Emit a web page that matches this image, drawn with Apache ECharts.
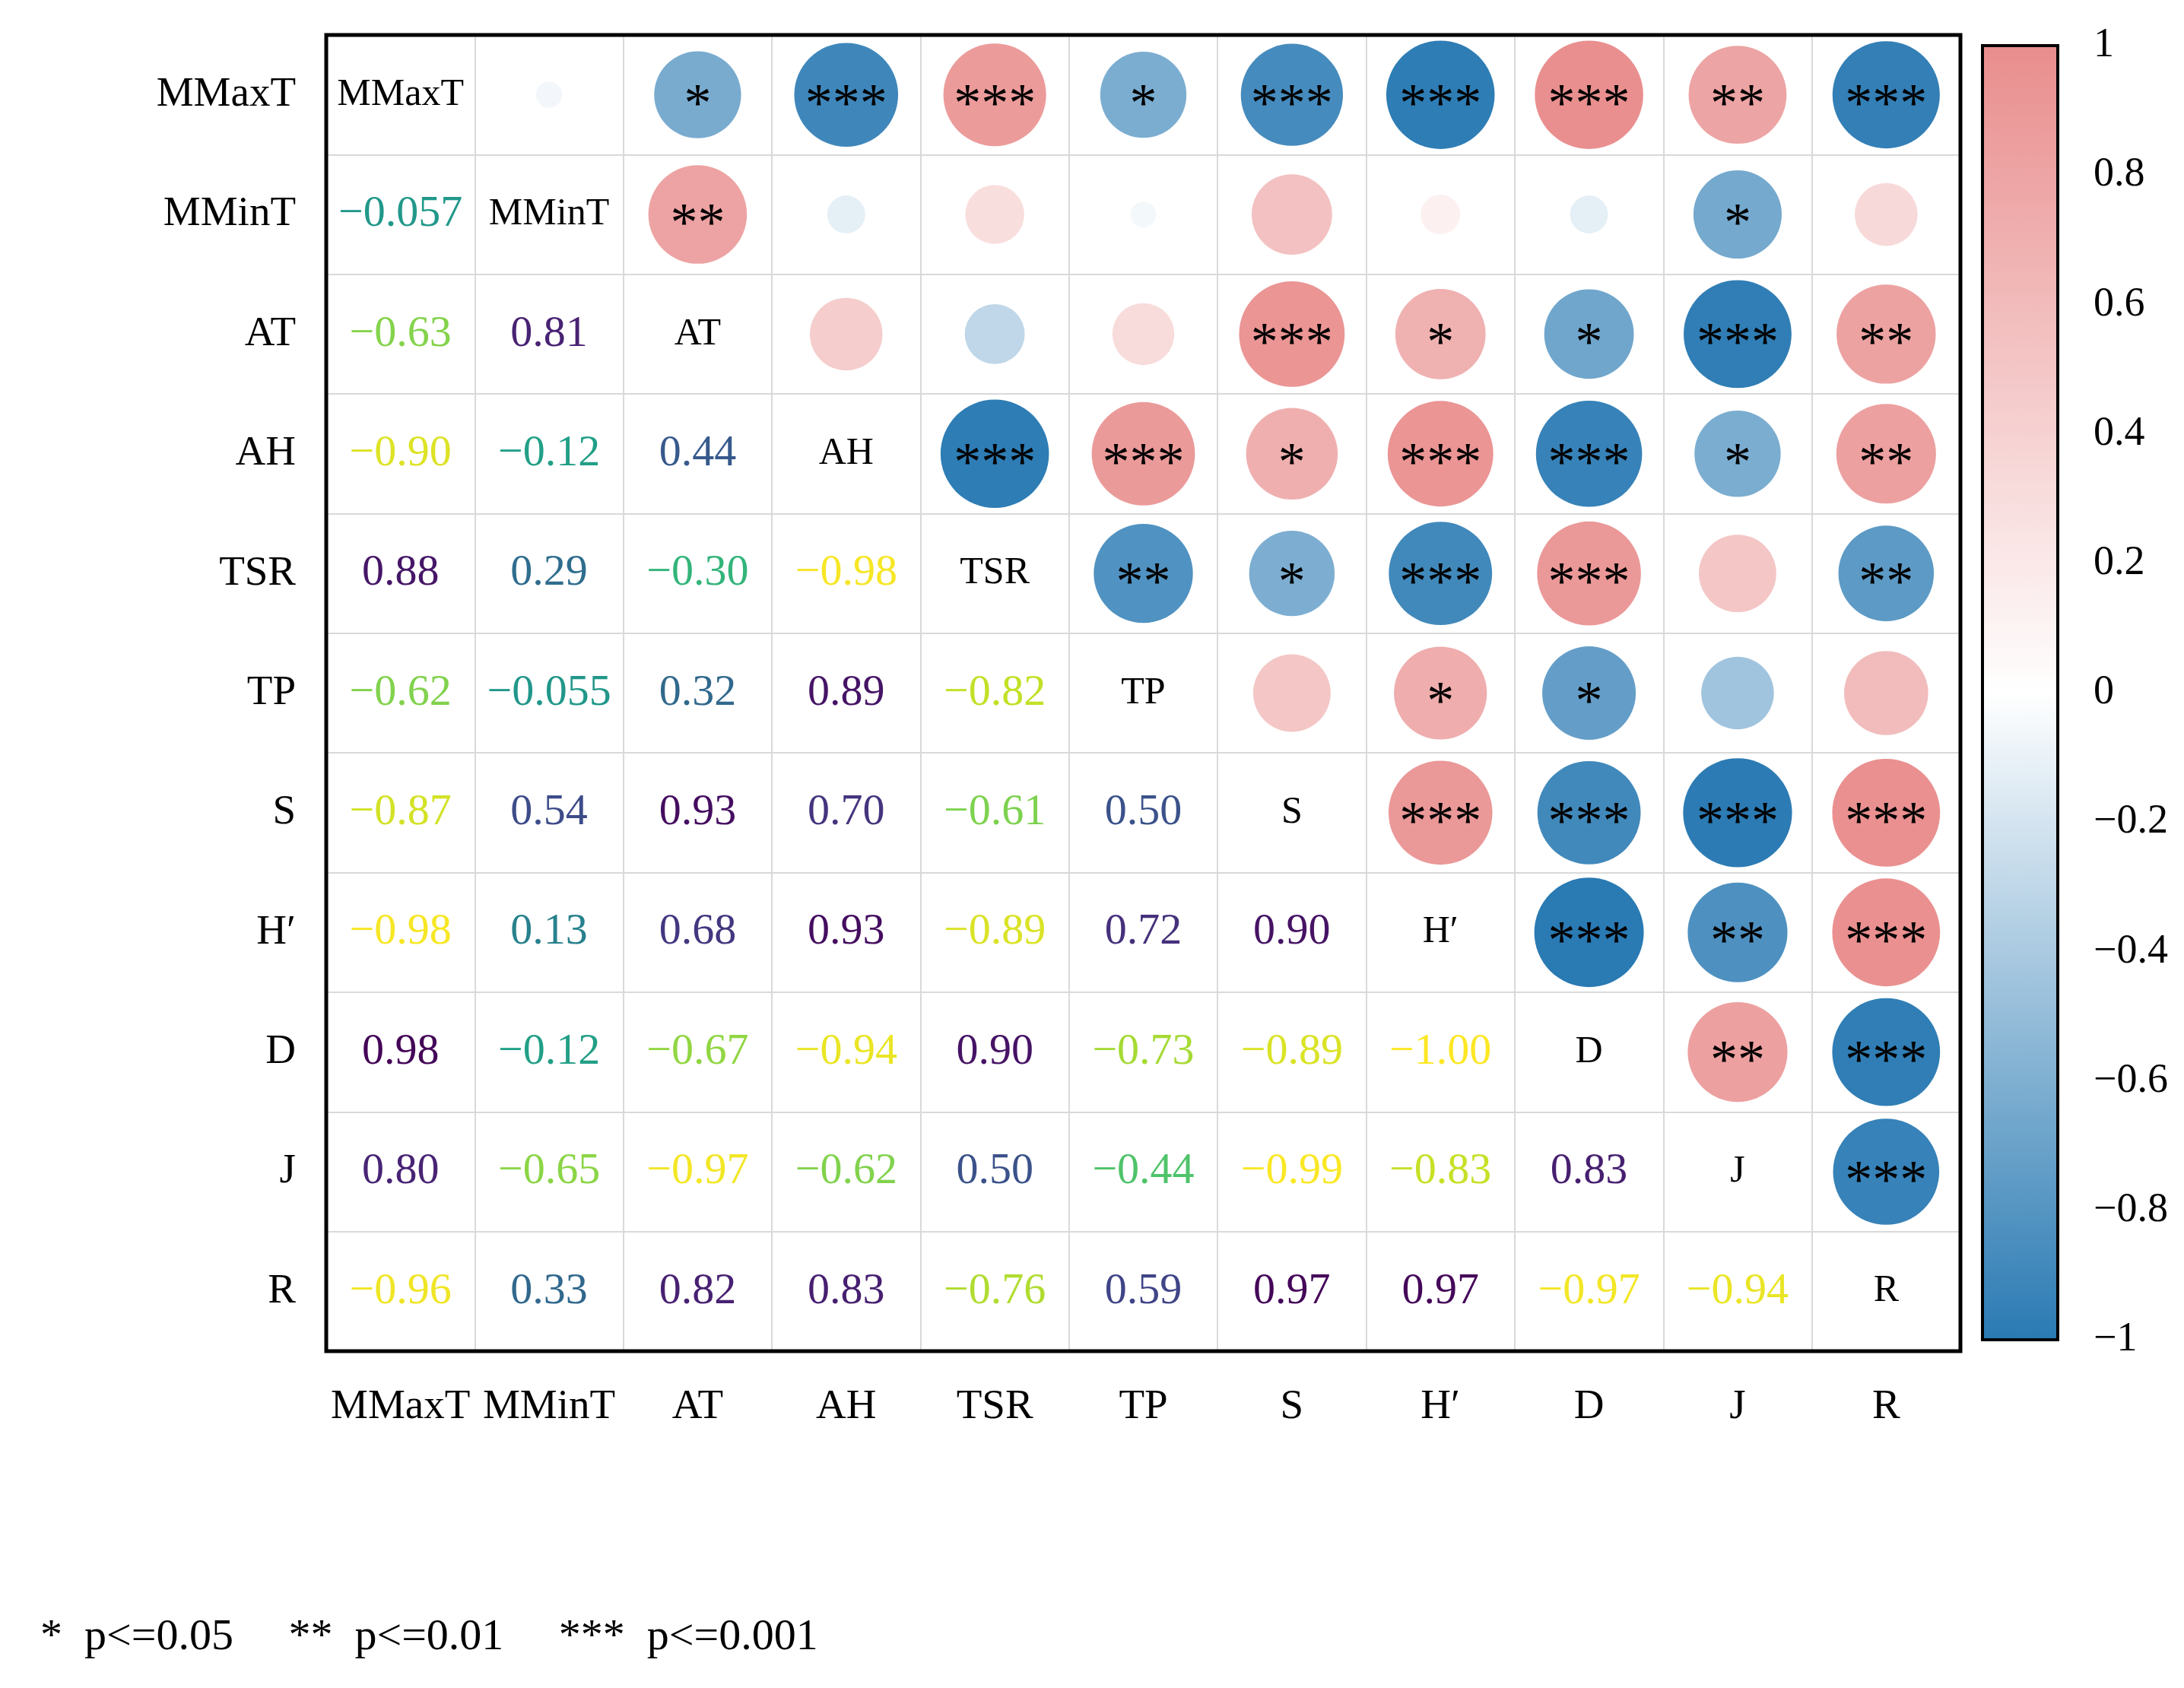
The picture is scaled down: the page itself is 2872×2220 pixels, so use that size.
<!DOCTYPE html>
<html>
<head>
    <meta charset="utf-8">
    <title></title>
    <style>
        html, body { margin: 0; padding: 0; background: #fff; }
    </style>
</head>
<body>
<div id="main" style="width: 2872px;height:2220px;"></div>
    <script type="text/javascript" src="https://cdn.jsdelivr.net/npm/echarts@6/dist/echarts.min.js"></script>
    <script type="text/javascript">
        // 变量名
        var names = ['MMaxT', 'MMinT', 'AT', 'AH', 'TSR', 'TP', 'S', 'H\u2032', 'D', 'J', 'R'];

        // 下三角相关系数（按行，第 i 行有 i 个值）
        var corrMMinT = [-0.057];
        var corrAT = [-0.63, 0.81];
        var corrAH = [-0.90, -0.12, 0.44];
        var corrTSR = [0.88, 0.29, -0.30, -0.98];
        var corrTP = [-0.62, -0.055, 0.32, 0.89, -0.82];
        var corrS = [-0.87, 0.54, 0.93, 0.70, -0.61, 0.50];
        var corrH = [-0.98, 0.13, 0.68, 0.93, -0.89, 0.72, 0.90];
        var corrD = [0.98, -0.12, -0.67, -0.94, 0.90, -0.73, -0.89, -1.00];
        var corrJ = [0.80, -0.65, -0.97, -0.62, 0.50, -0.44, -0.99, -0.83, 0.83];
        var corrR = [-0.96, 0.33, 0.82, 0.83, -0.76, 0.59, 0.97, 0.97, -0.97, -0.94];
        var corrRows = [[], corrMMinT, corrAT, corrAH, corrTSR, corrTP, corrS, corrH, corrD, corrJ, corrR];

        // 上三角显著性（按行，第 i 行从第 i+1 列开始）
        var starsMMaxT = ['', '*', '***', '***', '*', '***', '***', '***', '**', '***'];
        var starsMMinT = ['**', '', '', '', '', '', '', '*', ''];
        var starsAT = ['', '', '', '***', '*', '*', '***', '**'];
        var starsAH = ['***', '***', '*', '***', '***', '*', '**'];
        var starsTSR = ['**', '*', '***', '***', '', '**'];
        var starsTP = ['', '*', '*', '', ''];
        var starsS = ['***', '***', '***', '***'];
        var starsH = ['***', '**', '***'];
        var starsD = ['**', '***'];
        var starsJ = ['***'];
        var starsRows = [starsMMaxT, starsMMinT, starsAT, starsAH, starsTSR, starsTP, starsS, starsH, starsD, starsJ, []];

        // 色条刻度
        var barTicks = [-1, -0.8, -0.6, -0.4, -0.2, 0, 0.2, 0.4, 0.6, 0.8, 1];

        var viridis = ['#fde725', '#bddf26', '#7ad151', '#44bf70', '#22a884', '#21918c',
                       '#2a788e', '#355f8d', '#414487', '#482475', '#440154'];

        var fontName = 'Liberation Serif';

        function fmt(v) {
            var s = Math.abs(v) < 0.1 ? v.toFixed(3) : v.toFixed(2);
            return s.replace('-', '\u2212');
        }

        var circleData = [];
        var numberData = [];
        var nameData = [];
        for (var i = 0; i < names.length; i++) {
            nameData.push([names[i], names[i], names[i]]);
            for (var j = 0; j < i; j++) {
                var r = corrRows[i][j];
                numberData.push([names[j], names[i], r]);
                // 对称位置画圆
                circleData.push([names[i], names[j], r, starsRows[j][i - j - 1]]);
            }
        }

        var charts = echarts.init(document.getElementById('main'));

        var option = {
            backgroundColor: '#fff',
            animation: false,
            textStyle: { fontFamily: fontName },
            title: {
                text: '*  p<=0.05     **  p<=0.01     ***  p<=0.001',
                left: 48,
                top: 2120,
                textStyle: {
                    color: '#000',
                    fontSize: 58,
                    fontWeight: 'normal',
                    fontFamily: fontName
                }
            },
            grid: [{
                left: 429,
                top: 46,
                width: 2149,
                height: 1731,
                show: true,
                z: 5,
                backgroundColor: 'transparent',
                borderColor: '#000',
                borderWidth: 5
            }, {
                left: 2607,
                top: 60,
                width: 99,
                height: 1702,
                show: true,
                z: 6,
                backgroundColor: 'transparent',
                borderColor: '#000',
                borderWidth: 4
            }],
            xAxis: [{
                type: 'category',
                data: names,
                gridIndex: 0,
                axisLine: { show: false },
                axisTick: { show: false },
                axisLabel: {
                    color: '#000',
                    fontSize: 55,
                    margin: 46,
                    fontFamily: fontName,
                    interval: 0
                },
                splitLine: {
                    show: true,
                    interval: 0,
                    lineStyle: { color: '#d9d9d9', width: 2 }
                }
            }, {
                type: 'value',
                gridIndex: 1,
                show: false,
                min: 0,
                max: 1
            }],
            yAxis: [{
                type: 'category',
                data: names,
                inverse: true,
                gridIndex: 0,
                axisLine: { show: false },
                axisTick: { show: false },
                axisLabel: {
                    color: '#000',
                    fontSize: 55,
                    margin: 40,
                    fontFamily: fontName,
                    interval: 0
                },
                splitLine: {
                    show: true,
                    interval: 0,
                    lineStyle: { color: '#d9d9d9', width: 2 }
                }
            }, {
                type: 'value',
                gridIndex: 1,
                position: 'right',
                min: barTicks[0],
                max: barTicks[barTicks.length - 1],
                interval: 0.2,
                axisLine: { show: true, lineStyle: { color: '#000', width: 4 } },
                axisTick: { show: true, length: 36, lineStyle: { color: '#000', width: 4 } },
                splitLine: { show: false },
                axisLabel: {
                    color: '#000',
                    fontSize: 54,
                    margin: 47,
                    fontFamily: fontName,
                    formatter: function (v) {
                        return String(parseFloat(v.toFixed(1))).replace('-', '\u2212');
                    }
                }
            }],
            visualMap: [{
                type: 'continuous',
                seriesIndex: 0,
                dimension: 2,
                min: -1,
                max: 1,
                orient: 'vertical',
                left: 2607,
                top: 60,
                padding: 0,
                itemWidth: 99,
                itemHeight: 1702,
                calculable: false,
                showLabel: false,
                text: null,
                inRange: { color: ['#2A7AB3', '#FFFFFF', '#E98D8D'] }
            }, {
                type: 'continuous',
                show: false,
                seriesIndex: 1,
                dimension: 2,
                min: -1,
                max: 1,
                inRange: { color: viridis }
            }],
            series: [{
                type: 'scatter',
                xAxisIndex: 0,
                yAxisIndex: 0,
                data: circleData,
                symbol: 'circle',
                symbolSize: function (val) {
                    return Math.sqrt(Math.abs(val[2])) * 144;
                },
                itemStyle: { opacity: 1 },
                label: {
                    show: true,
                    position: 'inside',
                    color: '#000',
                    fontSize: 72,
                    fontFamily: fontName,
                    offset: [0, 15],
                    formatter: function (p) { return p.value[3]; }
                }
            }, {
                type: 'scatter',
                xAxisIndex: 0,
                yAxisIndex: 0,
                data: numberData,
                symbolSize: 0,
                itemStyle: { opacity: 1 },
                label: {
                    show: true,
                    position: 'inside',
                    color: 'inherit',
                    fontSize: 58,
                    fontFamily: fontName,
                    formatter: function (p) { return fmt(p.value[2]); }
                }
            }, {
                type: 'scatter',
                xAxisIndex: 0,
                yAxisIndex: 0,
                data: nameData,
                symbolSize: 0,
                itemStyle: { opacity: 1 },
                label: {
                    show: true,
                    position: 'inside',
                    color: '#000',
                    fontSize: 50,
                    fontFamily: fontName,
                    formatter: function (p) { return p.value[2]; }
                }
            }]
        };

        charts.setOption(option);
    </script>
</body>
</html>
